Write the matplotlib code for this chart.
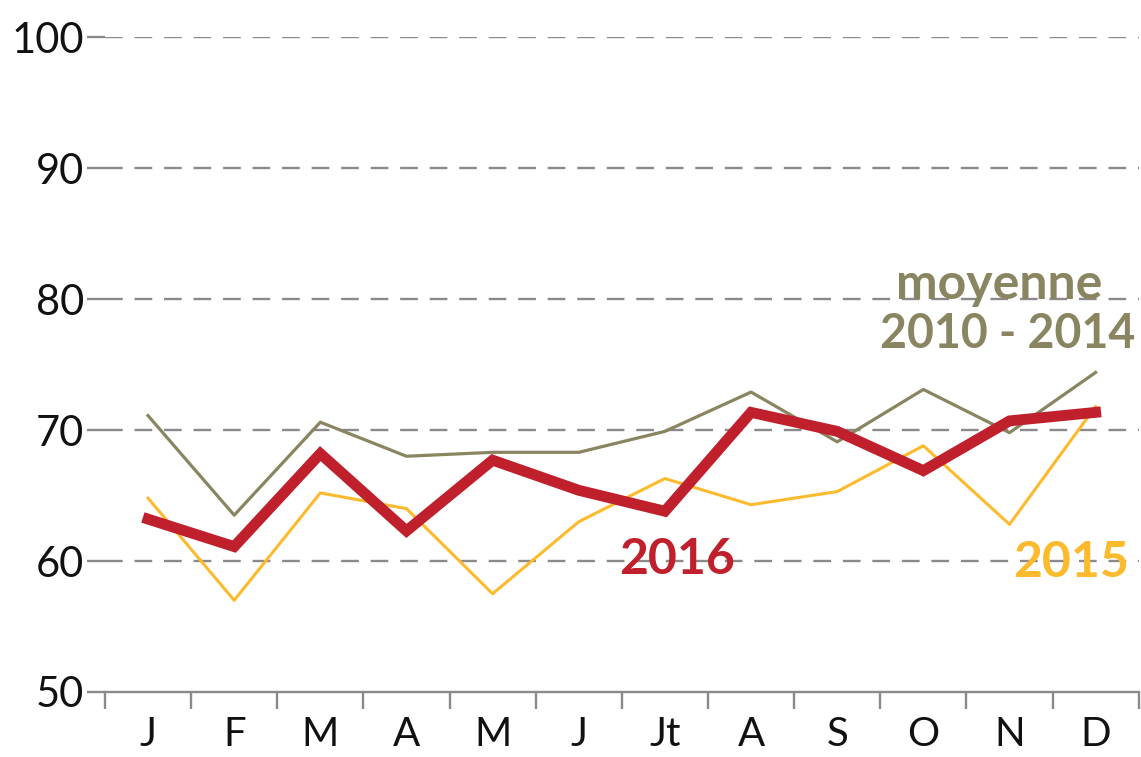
import matplotlib
matplotlib.use("Agg")
import matplotlib.pyplot as plt
from matplotlib.ticker import FixedLocator

plt.rcParams['font.family'] = ['Lato', 'DejaVu Sans']

months = ["J", "F", "M", "A", "M", "J", "Jt", "A", "S", "O", "N", "D"]
yticks = [50, 60, 70, 80, 90, 100]

moyenne = [71.1, 63.5, 70.6, 68.0, 68.3, 68.3, 69.9, 72.9, 69.1, 73.1, 69.8, 74.4]
y2015 = [64.8, 57.0, 65.2, 64.0, 57.5, 63.0, 66.3, 64.3, 65.3, 68.8, 62.8, 71.8]
y2016 = [63.2, 61.1, 68.2, 62.3, 67.7, 65.4, 63.8, 71.35, 69.9, 66.9, 70.7, 71.35]

red = "#C01F2C"
yellow = "#FDBA2C"
olive = "#8A8561"
grid = "#8A8A8A"

fig = plt.figure(figsize=(11.41, 7.57), dpi=100)
ax = fig.add_axes([0.092, 0.0859, 0.906, 0.865])

x = range(len(months))
ax.plot(x, moyenne, color=olive, lw=2.3, zorder=3)
ax.plot(x, y2015, color=yellow, lw=2.2, zorder=3)
ax.plot(x, y2016, color=red, lw=7.8, solid_joinstyle='miter', zorder=4)

ax.set_xlim(-0.5, 11.5)
ax.set_ylim(50, 100)

for v in yticks[1:]:
    ax.axhline(v, color=grid, lw=1.7, ls=(0, (7.5, 5)), zorder=1)

for s in ["top", "right", "left"]:
    ax.spines[s].set_visible(False)
ax.spines["bottom"].set_color(grid)
ax.spines["bottom"].set_linewidth(1.7)

ax.set_yticks(yticks)
ax.set_yticklabels([str(v) for v in yticks])
ax.tick_params(axis='y', length=13, width=1.7, color=grid, labelsize=30, pad=2,
               labelcolor="#111111")

ax.set_xticks(list(x))
ax.set_xticklabels(months)
ax.xaxis.set_minor_locator(FixedLocator([i - 0.5 for i in range(13)]))
ax.tick_params(axis='x', which='major', length=0, labelsize=29, pad=17,
               labelcolor="#111111")
ax.tick_params(axis='x', which='minor', length=12, width=1.7, color=grid)

ax.text(6.14, 60.1, "2016", color=red, fontsize=36, fontweight='bold',
        ha='center', va='center', zorder=5)
ax.text(10.71, 59.9, "2015", color=yellow, fontsize=36, fontweight='bold',
        ha='center', va='center', zorder=5)
ax.text(9.88, 81.1, "moyenne", color=olive, fontsize=36, fontweight='bold',
        ha='center', va='center', zorder=5)
ax.text(9.98, 77.3, "2010 - 2014", color=olive, fontsize=33.5, fontweight='bold',
        ha='center', va='center', zorder=5)

fig.savefig("out.png", dpi=100)
